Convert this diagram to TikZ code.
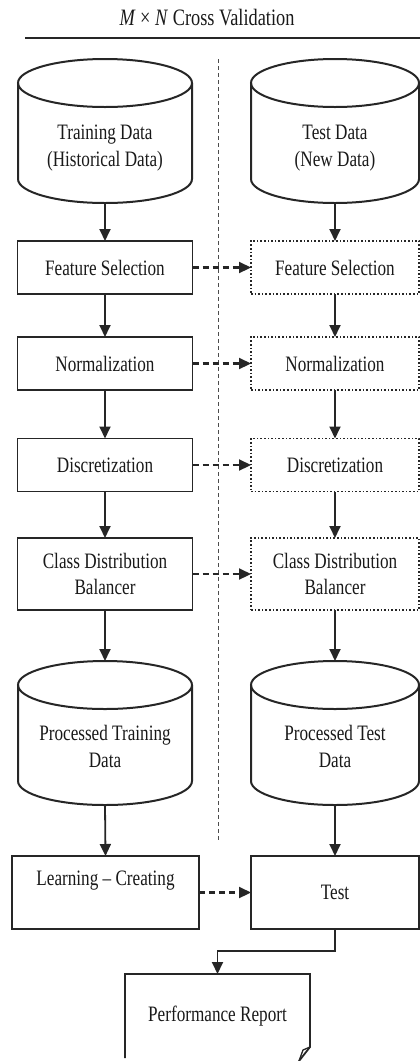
\documentclass[tikz,border=0pt]{standalone}
\usepackage{fontspec}
\setmainfont{Liberation Serif}[FakeStretch=0.78]
\usetikzlibrary{arrows.meta}
\usetikzlibrary{calc}

\tikzset{
  every node/.style={font=\fontsize{22}{27}\selectfont, text=black!90},
  box/.style={draw=black!85, line width=1.6pt, minimum width=175pt, minimum height=53pt,
    outer sep=0pt, align=center},
  dotbox/.style={box, minimum width=168pt, dash pattern=on 1.6pt off 2pt},
  drum/.style={minimum width=174pt, minimum height=144pt, outer sep=0pt, inner sep=0pt,
    align=center, text height=70pt, text depth=0pt},
  flow/.style={draw=black!85, line width=1.8pt, -{Triangle[length=12pt,width=11pt]}},
  carry/.style={flow, line width=2.2pt, dash pattern=on 6pt off 4pt},
}

% cylinder round a named node: node, x radius, y radius
\newcommand{\drawdrum}[3]{%
  \draw[line width=2pt, black!85] ([yshift=-#3]#1.north west) -- ([yshift=#3]#1.south west)
    arc[start angle=180, end angle=360, x radius=#2, y radius=#3]
    -- ([yshift=-#3]#1.north east);
  \draw[line width=2pt, black!85] ([yshift=-#3]#1.north) ellipse[x radius=#2, y radius=#3];
}

\begin{document}
\begin{tikzpicture}[x=1pt,y=1pt]
\useasboundingbox (0,0) rectangle (420,-1061);
% heading
\node[font=\fontsize{23.5}{27}\selectfont] (head) at (207,-18) {\textit{M} × \textit{N} Cross Validation};
\draw[line width=1.6pt, black!85] (25,-38) -- (420,-38);
\draw[line width=0.8pt, black!70, dash pattern=on 4pt off 3pt] (218,-59) -- (218,-840);
% training side
\node[drum] (train) at (105,-131) {Training Data\\(Historical Data)};
\drawdrum{train}{87pt}{24pt}
\node[box] (fsL) at (105,-267.5) {Feature Selection};
\node[box] (normL) at (105,-363.5) {Normalization};
\node[box] (discL) at (105,-465) {Discretization};
\node[box, minimum height=72pt, font=\fontsize{22}{26}\selectfont] (cdbL) at (105,-574)
  {Class Distribution\\Balancer};
\node[drum, text height=68pt] (procL) at (105,-733) {Processed Training\\Data};
\drawdrum{procL}{87pt}{24pt}
\node[box, minimum width=187pt, minimum height=73pt, text depth=29pt] (learn) at (105.5,-892.5)
  {Learning -- Creating};
% test side
\node[drum, minimum width=168pt] (testdata) at (335,-131) {Test Data\\(New Data)};
\drawdrum{testdata}{84pt}{24pt}
\node[dotbox] (fsR) at (335,-267.5) {Feature Selection};
\node[dotbox] (normR) at (335,-363.5) {Normalization};
\node[dotbox] (discR) at (335,-465) {Discretization};
\node[dotbox, minimum height=72pt, font=\fontsize{22}{26}\selectfont] (cdbR) at (335,-574)
  {Class Distribution\\Balancer};
\node[drum, minimum width=168pt, text height=68pt] (procR) at (335,-733) {Processed Test\\Data};
\drawdrum{procR}{84pt}{24pt}
\node[box, minimum width=168pt, minimum height=73pt] (test) at (335,-892.5) {Test};
% report
\node[minimum width=185pt, minimum height=84pt, outer sep=0pt] (report) at (217.5,-1016)
  {Performance Report};
\draw[line width=1.8pt, black!85] (report.south west) -- (report.north west) -- (report.north east)
  -- ([yshift=11pt]report.south east) -- ([xshift=-11pt, yshift=-3pt]report.south east);
\draw[line width=1.3pt, black!85] ([yshift=11pt]report.south east) -- ([xshift=-7pt, yshift=8pt]report.south east)
  -- ([xshift=-11pt, yshift=-3pt]report.south east);
% arrows
\draw[flow] (train.south) -- (fsL.north);
\draw[flow] (fsL.south) -- (normL.north);
\draw[flow] (normL.south) -- (discL.north);
\draw[flow] (discL.south) -- (cdbL.north);
\draw[flow] (cdbL.south) -- (procL.north);
\draw[flow] (procL.south) -- (learn.north);
\draw[flow] (testdata.south) -- (fsR.north);
\draw[flow] (fsR.south) -- (normR.north);
\draw[flow] (normR.south) -- (discR.north);
\draw[flow] (discR.south) -- (cdbR.north);
\draw[flow] (cdbR.south) -- (procR.north);
\draw[flow] (procR.south) -- (test.north);
\draw[flow] (test.south) -- ++(0,-22) -| (report.north);
% carried over steps
\draw[carry] (fsL.east) -- (fsR.west);
\draw[carry] (normL.east) -- (normR.west);
\draw[carry] (discL.east) -- (discR.west);
\draw[carry] (cdbL.east) -- (cdbR.west);
\draw[carry] (learn.east) -- (test.west);
\end{tikzpicture}
\end{document}
